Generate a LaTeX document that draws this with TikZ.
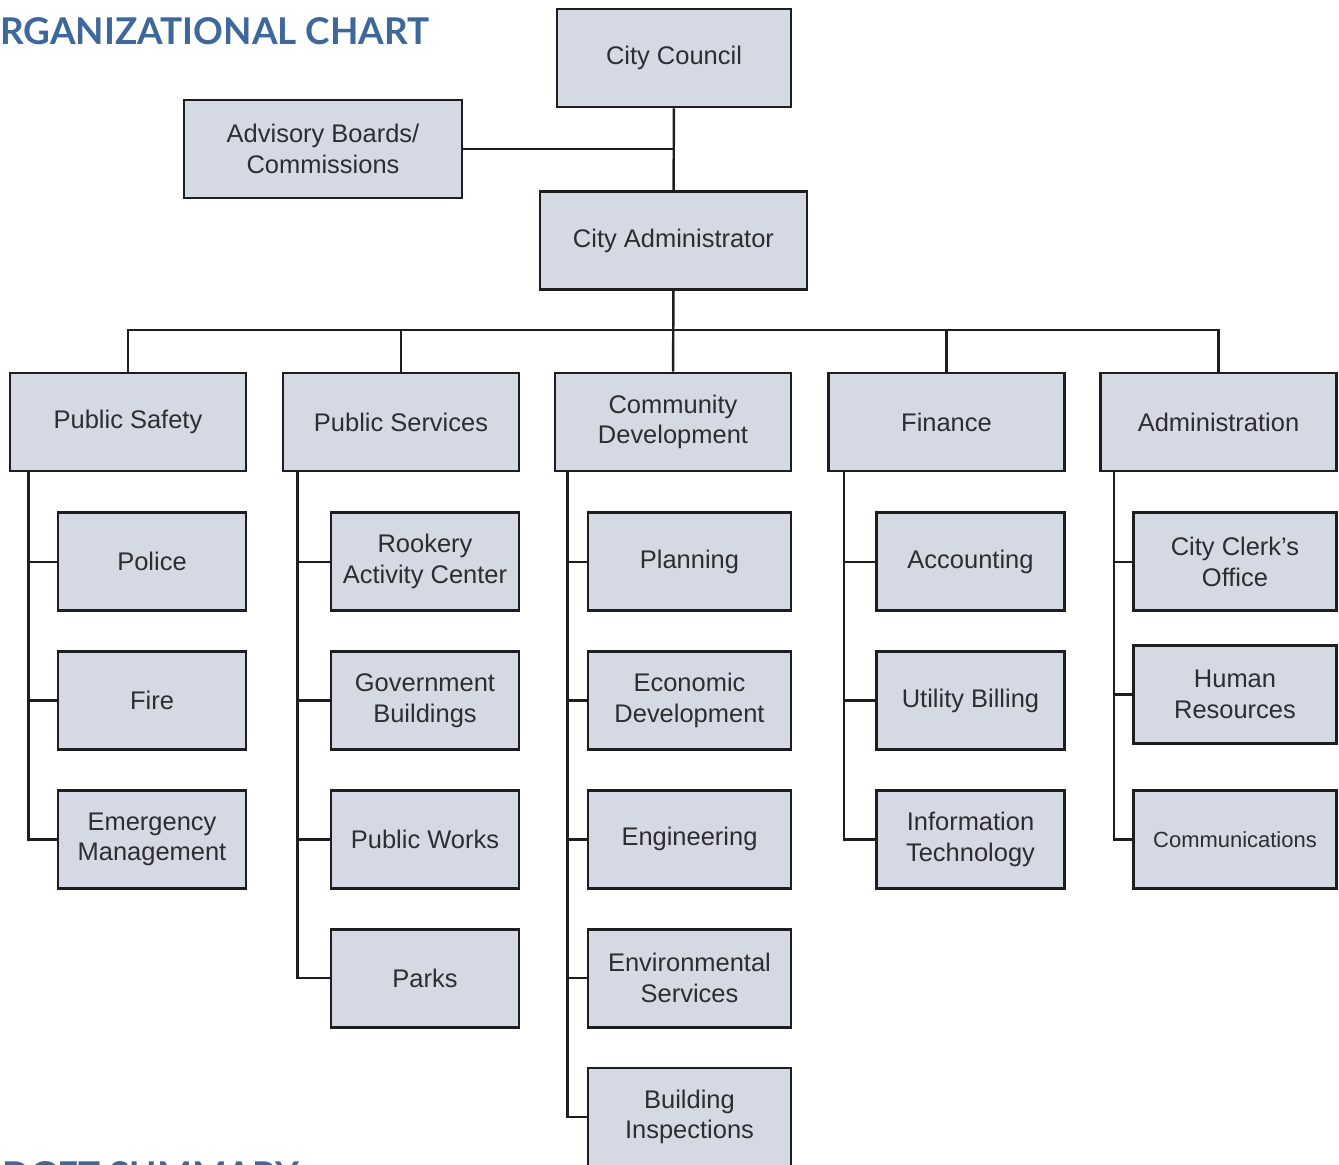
\documentclass[tikz,border=0pt]{standalone}
\usepackage{fontspec}
\setmainfont{Liberation Sans}
\newfontfamily\headfont{Lato}
\usepackage{tikz}
\usetikzlibrary{positioning}
\definecolor{boxfill}{RGB}{213,217,227}
\definecolor{boxline}{RGB}{30,30,32}
\definecolor{boxtext}{RGB}{45,45,50}
\definecolor{headblue}{RGB}{62,104,153}
\tikzstyle{unit}=[rectangle, draw=boxline, fill=boxfill, line width=1.6pt, minimum height=1.96cm, align=center, text=boxtext, font=\fontsize{14.5}{17.5}\selectfont, inner sep=2pt]
\tikzstyle{dept}=[unit, minimum width=4.72cm]
\tikzstyle{sub}=[unit, minimum width=3.76cm]
\tikzstyle{widesub}=[unit, minimum width=4.06cm]
\tikzstyle{link}=[draw=boxline, line width=1.4pt]
\tikzstyle{heading}=[text=headblue, font=\headfont\bfseries\fontsize{21}{25}\selectfont, inner sep=0pt, anchor=base west]

\begin{document}
\begin{tikzpicture}[x=0.02cm, y=-0.02cm]
    \clip (0,0) rectangle (1339,1165);
    \node (title) [heading] at (0,45) {RGANIZATIONAL CHART};
    \node (summary) [heading] at (2,1188) {DGET SUMMARY};

    % top of the chart
    \node (council) [unit, minimum width=4.68cm] at (674,58) {City Council};
    \node (advisory) [unit, minimum width=5.56cm] at (323,149) {Advisory Boards/\\Commissions};
    \node (admin) [unit, minimum width=5.34cm] at (673.5,240.5) {City Administrator};

    % departments
    \node (safety) [dept] at (128,422) {Public Safety};
    \node (services) [dept] at (401,422) {Public Services};
    \node (community) [dept] at (673,422) {Community\\Development};
    \node (finance) [dept] at (946.5,422) {Finance};
    \node (administration) [dept] at (1218.5,422) {Administration};

    % public safety
    \node (police) [sub, below left=0.78cm and 0cm of safety.south east] {Police};
    \node (fire) [sub, below=0.76cm of police] {Fire};
    \node (emergency) [sub, below=0.76cm of fire] {Emergency\\Management};

    % public services
    \node (rookery) [sub, below left=0.78cm and 0cm of services.south east] {Rookery\\Activity Center};
    \node (buildings) [sub, below=0.76cm of rookery] {Government\\Buildings};
    \node (works) [sub, below=0.76cm of buildings] {Public Works};
    \node (parks) [sub, below=0.76cm of works] {Parks};

    % community development
    \node (planning) [widesub, below left=0.78cm and 0cm of community.south east] {Planning};
    \node (economic) [widesub, below=0.76cm of planning] {Economic\\Development};
    \node (engineering) [widesub, below=0.76cm of economic] {Engineering};
    \node (environment) [widesub, below=0.76cm of engineering] {Environmental\\Services};
    \node (inspections) [widesub, below=0.76cm of environment] {Building\\Inspections};

    % finance
    \node (accounting) [sub, below left=0.78cm and 0cm of finance.south east] {Accounting};
    \node (billing) [sub, below=0.76cm of accounting] {Utility Billing};
    \node (it) [sub, below=0.76cm of billing] {Information\\Technology};

    % administration
    \node (clerk) [widesub, below left=0.78cm and 0cm of administration.south east] {City Clerk's\\Office};
    \node (hr) [widesub, below=0.64cm of clerk] {Human\\Resources};
    \node (comms) [widesub, below=0.88cm of hr, font=\fontsize{12.5}{15}\selectfont] {Communications};

    \draw[link] (council) -- (admin);
    \draw[link] (advisory.east) -- (advisory.east -| council);
    \draw[link] (admin) -- (community);
    \coordinate (bus) at (673,330);
    \draw[link] (safety.north) |- (bus -| administration) -- (administration.north);
    \draw[link] (services.north) -- (services.north |- bus);
    \draw[link] (finance.north) -- (finance.north |- bus);

    \draw[link] ([xshift=0.4cm]safety.south west) |- (police.west);
    \draw[link] ([xshift=0.4cm]safety.south west) |- (fire.west);
    \draw[link] ([xshift=0.4cm]safety.south west) |- (emergency.west);

    \draw[link] ([xshift=0.32cm]services.south west) |- (rookery.west);
    \draw[link] ([xshift=0.32cm]services.south west) |- (buildings.west);
    \draw[link] ([xshift=0.32cm]services.south west) |- (works.west);
    \draw[link] ([xshift=0.32cm]services.south west) |- (parks.west);

    \draw[link] ([xshift=0.28cm]community.south west) |- (planning.west);
    \draw[link] ([xshift=0.28cm]community.south west) |- (economic.west);
    \draw[link] ([xshift=0.28cm]community.south west) |- (engineering.west);
    \draw[link] ([xshift=0.28cm]community.south west) |- (environment.west);
    \draw[link] ([xshift=0.28cm]community.south west) |- (inspections.west);

    \draw[link] ([xshift=0.34cm]finance.south west) |- (accounting.west);
    \draw[link] ([xshift=0.34cm]finance.south west) |- (billing.west);
    \draw[link] ([xshift=0.34cm]finance.south west) |- (it.west);

    \draw[link] ([xshift=0.3cm]administration.south west) |- (clerk.west);
    \draw[link] ([xshift=0.3cm]administration.south west) |- (hr.west);
    \draw[link] ([xshift=0.3cm]administration.south west) |- (comms.west);
\end{tikzpicture}
\end{document}
